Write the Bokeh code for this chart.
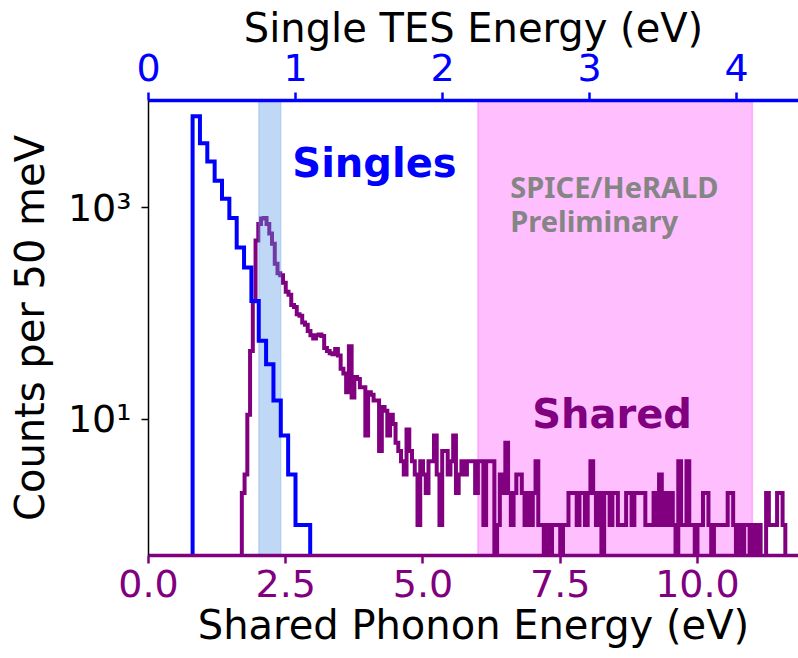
import numpy as np
from bokeh.plotting import figure
from bokeh.models import Range1d, LinearAxis, FixedTicker, PrintfTickFormatter, Label
from bokeh.embed import file_html
from bokeh.resources import INLINE

# ---------------- data ----------------
# Singles: counts per 50 meV bin in single-TES energy (eV)
singles_start = 0.30
singles_bin = 0.05
singles_counts = [7330, 4070, 2730, 1800, 1210, 800, 420, 272, 131, 55, 33, 15, 7, 3, 1, 1]

# Shared: counts per 50 meV bin in shared phonon energy (eV)
shared_start = 1.70
shared_bin = 0.05
shared_counts = [
    2, 3, 11, 44, 130, 490, 700, 790, 800, 700,        # 1.70-2.15
    570, 455, 295, 240, 230, 195, 160, 150, 120, 115,  # 2.20-2.65
    98, 95, 82, 78, 68, 62, 58, 62, 63, 61,            # 2.70-3.15
    47, 44, 42, 41, 46, 40, 30, 27, 18, 49,            # 3.20-3.65
    16, 25, 24, 20, 20, 7, 18, 17, 15, 15,             # 3.70-4.15
    5, 13, 12, 7, 11, 9, 6, 5, 4, 3,                   # 4.20-4.65
    8, 5, 4, 3, 1, 4, 3, 2, 4, 4,                      # 4.70-5.15
    7, 3, 1, 5, 5, 3, 4, 7, 2, 3,                      # 5.20-5.65
    4, 3, 4, 4, 4, 2, 4, 4, 1, 4,                      # 5.70-6.15
    4, 4, 0, 1, 3, 2, 6, 2, 1, 2,                      # 6.20-6.65
    3, 3, 2, 1, 2, 1, 2, 4, 1, 1,                      # 6.70-7.15
    0, 1, 0, 1, 1, 1, 0, 1, 1, 2,                      # 7.20-7.65
    2, 2, 1, 2, 2, 1, 2, 4, 2, 1,                      # 7.70-8.15
    2, 0, 2, 2, 1, 2, 2, 1, 1, 1,                      # 8.20-8.65
    2, 2, 1, 2, 2, 2, 2, 1, 1, 1,                      # 8.70-9.15
    2, 1, 3, 1, 2, 1, 2, 1, 0, 4,                      # 9.20-9.65
    1, 1, 4, 1, 1, 0, 1, 1, 2, 2,                      # 9.70-10.15
    1, 0, 1, 1, 1, 1, 1, 2, 2, 1,                      # 10.20-10.65
    0, 1, 0, 1, 1, 0, 1, 0, 1, 0,                      # 10.70-11.15
    0, 2, 1, 1, 1, 2, 2, 1,                            # 11.20-11.55
]

singles_window = [0.75, 0.90]   # single TES energy (eV)
shared_window = [6.0, 11.0]     # shared phonon energy (eV)

x_shared_range = [0.0, 11.84]
x_tes_range = [0.0, 4.422]
y_count_range = [0.514, 10300.0]

bottom_ticks = [0.0, 2.5, 5.0, 7.5, 10.0]
top_ticks = [0, 1, 2, 3, 4]
y_ticks = [10, 1000]
y_tick_labels = {10: "10\u00b9", 1000: "10\u00b3"}


def outline(start, width, counts, floor=1e-3):
    n = len(counts)
    edges = np.round(start + width * np.arange(n + 1), 6)
    c = np.asarray(counts, dtype=float)
    c = np.where(c > 0, c, floor)
    xs = np.repeat(edges, 2)
    ys = np.concatenate([[floor], np.repeat(c, 2), [floor]])
    return xs, ys


PURPLE = "#800080"
BLUE = "#0000ff"
FONT = "DejaVu Sans"

p = figure(width=798, height=658,
           x_range=Range1d(*x_shared_range), y_range=Range1d(*y_count_range),
           y_axis_type="log", output_backend="svg", toolbar_location=None,
           min_border_left=148, min_border_right=0, min_border_top=100,
           min_border_bottom=103)
p.extra_x_ranges = {"tes": Range1d(*x_tes_range)}
p.outline_line_color = None
p.grid.visible = False
p.background_fill_color = "white"
p.border_fill_color = "white"

# shaded windows
p.quad(left=[shared_window[0]], right=[shared_window[1]],
       bottom=[y_count_range[0]], top=[y_count_range[1]],
       fill_color="#ff00ff", fill_alpha=0.25, line_color="#ff00ff",
       line_alpha=0.25, line_width=1.5)

sx, sy = outline(shared_start, shared_bin, shared_counts)
p.line(sx, sy, line_color=PURPLE, line_width=4, line_join="miter")

p.quad(left=[singles_window[0]], right=[singles_window[1]],
       bottom=[y_count_range[0]], top=[y_count_range[1]],
       x_range_name="tes", fill_color="#5599e6", fill_alpha=0.38,
       line_color="#5599e6", line_alpha=0.25, line_width=1.5)

bx, by = outline(singles_start, singles_bin, singles_counts)
p.line(bx, by, x_range_name="tes", line_color=BLUE, line_width=4, line_join="miter")

# bottom axis
xa = p.xaxis[0]
xa.ticker = FixedTicker(ticks=bottom_ticks, minor_ticks=[])
xa.formatter = PrintfTickFormatter(format="%.1f")
xa.axis_label = "Shared Phonon Energy (eV)"
xa.axis_line_color = PURPLE
xa.axis_line_width = 3.5
xa.major_tick_line_color = PURPLE
xa.major_tick_line_width = 2.5
xa.major_tick_out = 8
xa.major_tick_in = 0
xa.minor_tick_line_color = None
xa.major_label_text_color = PURPLE
xa.major_label_text_font = FONT
xa.major_label_text_font_size = "38px"
xa.major_label_standoff = 6
xa.axis_label_text_font = FONT
xa.axis_label_text_font_size = "40px"
xa.axis_label_text_font_style = "normal"
xa.axis_label_text_color = "black"
xa.axis_label_standoff = 2

# left axis
ya = p.yaxis[0]
ya.ticker = FixedTicker(ticks=y_ticks, minor_ticks=[])
ya.major_label_overrides = y_tick_labels
ya.axis_label = "Counts per 50 meV"
ya.axis_line_color = "black"
ya.axis_line_width = 1.5
ya.major_tick_line_color = "black"
ya.major_tick_line_width = 1.5
ya.major_tick_out = 7
ya.major_tick_in = 0
ya.minor_tick_line_color = None
ya.major_label_text_color = "black"
ya.major_label_text_font = FONT
ya.major_label_text_font_size = "38px"
ya.major_label_standoff = 10
ya.axis_label_text_font = FONT
ya.axis_label_text_font_size = "40px"
ya.axis_label_text_font_style = "normal"
ya.axis_label_text_color = "black"
ya.axis_label_standoff = 12

# top axis (single TES energy)
ta = LinearAxis(x_range_name="tes")
ta.ticker = FixedTicker(ticks=top_ticks, minor_ticks=[])
ta.axis_label = "Single TES Energy (eV)"
ta.axis_line_color = BLUE
ta.axis_line_width = 3.5
ta.major_tick_line_color = BLUE
ta.major_tick_line_width = 2.5
ta.major_tick_out = 8
ta.major_tick_in = 0
ta.minor_tick_line_color = None
ta.major_label_text_color = BLUE
ta.major_label_text_font = FONT
ta.major_label_text_font_size = "38px"
ta.major_label_standoff = 12
ta.axis_label_text_font = FONT
ta.axis_label_text_font_size = "40px"
ta.axis_label_text_font_style = "normal"
ta.axis_label_text_color = "black"
ta.axis_label_standoff = 0
p.add_layout(ta, "above")

# annotations
p.add_layout(Label(x=2.62, y=2660, text="Singles", text_font=FONT,
                   text_font_style="bold", text_font_size="40px",
                   text_color=BLUE, text_baseline="alphabetic"))
p.add_layout(Label(x=6.99, y=11.1, text="Shared", text_font=FONT,
                   text_font_style="bold", text_font_size="40px",
                   text_color=PURPLE, text_baseline="alphabetic"))
p.add_layout(Label(x=6.59, y=1580, text="SPICE/HeRALD", text_font="Noto Sans",
                   text_font_style="bold", text_font_size="29px",
                   text_color="#858585", text_baseline="alphabetic"))
p.add_layout(Label(x=6.59, y=755, text="Preliminary", text_font="Noto Sans",
                   text_font_style="bold", text_font_size="29px",
                   text_color="#858585", text_baseline="alphabetic"))

open("out.html", "w").write(file_html(p, INLINE))
